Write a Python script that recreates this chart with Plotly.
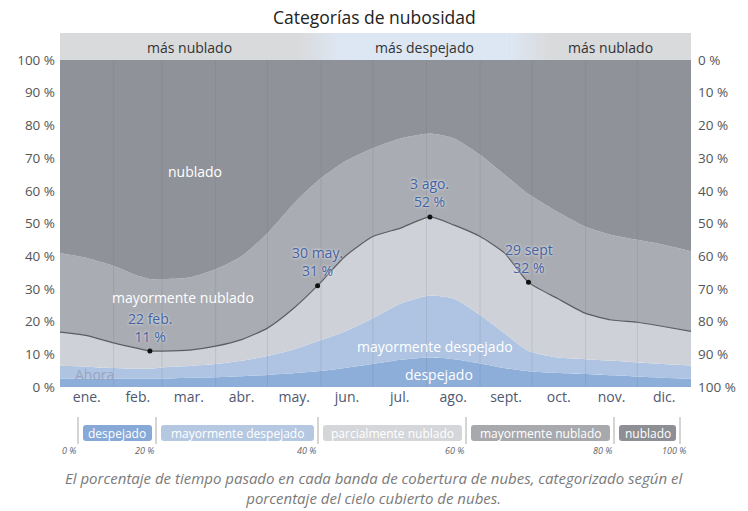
import plotly.graph_objects as go

# ---------------- data ----------------
days = [0, 15, 31, 45, 52, 59, 75, 90, 105, 120, 135, 149, 165, 181, 197, 214,
        228, 243, 257, 271, 288, 304, 319, 334, 349, 365]
# cumulative boundaries (% of time)
clear_top = [2.5, 2.5, 2.5, 2.5, 2.5, 2.5, 2.8, 3.0, 3.3, 3.7, 4.2, 4.8, 5.8, 7.0, 8.3, 9.0,
             8.5, 7.2, 5.8, 4.8, 4.3, 4.0, 3.6, 3.2, 2.8, 2.5]
mostly_clear_top = [6.5, 6.2, 5.8, 5.6, 5.6, 6.0, 6.4, 7.0, 8.0, 9.5, 11.5, 14.0, 17.0, 21.0, 25.5, 28.0,
                    27.0, 22.0, 16.5, 11.0, 9.0, 8.5, 8.0, 7.5, 7.0, 6.5]
partly_cloudy_top = [16.8, 15.8, 13.5, 11.8, 11.0, 11.0, 11.3, 12.5, 14.5, 18.0, 24.0, 31.0, 40.0, 46.0, 48.6, 52.0,
                     49.5, 46.0, 41.0, 32.0, 27.0, 22.5, 20.5, 19.8, 18.5, 17.0]
mostly_cloudy_top = [41.0, 39.5, 37.0, 34.0, 33.0, 33.0, 33.5, 36.0, 40.0, 47.0, 56.0, 63.0, 69.0, 73.0, 76.0, 77.5,
                     76.0, 71.0, 65.0, 59.0, 53.5, 49.0, 46.5, 45.0, 43.5, 41.5]

callout_days = [52, 149, 214, 271]
callout_values = [11, 31, 52, 32]
callout_dates = ["22 feb.", "30 may.", "3 ago.", "29 sept"]

month_labels = ["ene.", "feb.", "mar.", "abr.", "may.", "jun.", "jul.", "ago.", "sept.", "oct.", "nov.", "dic."]
month_starts = [0, 31, 59, 90, 120, 151, 181, 212, 243, 273, 304, 334, 365]

band_names = ["despejado", "mayormente despejado", "parcialmente nublado", "mayormente nublado", "nublado"]
band_edges = [0, 20, 40, 60, 80, 100]

season_labels = ["más nublado", "más despejado", "más nublado"]
season_edges = [0, 150, 272, 365]

# ---------------- styling ----------------
W, H = 748, 511
X0, X1, Y0, Y1 = 60, 691, 60, 387  # plot area pixels
def px(x): return x / W
def py(y): return 1 - y / H

FONT = "Open Sans"
col_clear = "#8caed9"
col_mclear = "#aec4e2"
col_partly = "#ced2d8"
col_mcloudy = "#a9acb2"
col_cloudy = "#8f9299"

fig = go.Figure()
zero = [0] * len(days)
hundred = [100] * len(days)
layers = [
    (zero, None),
    (clear_top, col_clear),
    (mostly_clear_top, col_mclear),
    (partly_cloudy_top, col_partly),
    (mostly_cloudy_top, col_mcloudy),
    (hundred, col_cloudy),
]
for vals, col in layers:
    fig.add_trace(go.Scatter(
        x=days, y=vals, mode="lines", line=dict(width=0, shape="spline", smoothing=0.6),
        fill=None if col is None else "tonexty", fillcolor=col,
        hoverinfo="skip", showlegend=False))

# boundary line
fig.add_trace(go.Scatter(x=days, y=partly_cloudy_top, mode="lines",
                         line=dict(color="#5b5d62", width=1.2, shape="spline", smoothing=0.6),
                         hoverinfo="skip", showlegend=False))
fig.add_trace(go.Scatter(x=callout_days, y=callout_values, mode="markers",
                         marker=dict(color="#111", size=5), hoverinfo="skip", showlegend=False))
# invisible trace for right axis
fig.add_trace(go.Scatter(x=[0, 365], y=[0, 100], yaxis="y2", mode="markers",
                         marker=dict(opacity=0), hoverinfo="skip", showlegend=False))

shapes = []
# month grid lines
for d in month_starts[1:-1]:
    shapes.append(dict(type="line", xref="x", yref="y", x0=d, x1=d, y0=0, y1=100,
                       line=dict(color="rgba(110,110,120,0.18)", width=1), layer="above"))

# season band on top (with gradient transitions)
gray = (217, 218, 220)
blue = (221, 231, 243)
def mix(a, b, t):
    return "rgb(%d,%d,%d)" % tuple(round(a[i] + (b[i] - a[i]) * t) for i in range(3))
def dx(d): return X0 + d / 365 * (X1 - X0)
shapes.append(dict(type="rect", xref="paper", yref="paper", x0=px(X0), x1=px(X1),
                   y0=py(60), y1=py(33), fillcolor=mix(gray, gray, 0), line=dict(width=0), layer="below"))
for (d0, d1, a, b) in [(season_edges[1] - 12, season_edges[1] + 12, gray, blue),
                       (season_edges[2] - 12, season_edges[2] + 12, blue, gray)]:
    n = 12
    for i in range(n):
        xa = dx(d0 + (d1 - d0) * i / n)
        xb = dx(d0 + (d1 - d0) * (i + 1) / n) + 0.5
        shapes.append(dict(type="rect", xref="paper", yref="paper", x0=px(xa), x1=px(xb),
                           y0=py(60), y1=py(33), fillcolor=mix(a, b, (i + 0.5) / n),
                           line=dict(width=0), layer="below"))
shapes.append(dict(type="rect", xref="paper", yref="paper", x0=px(dx(season_edges[1] + 12)),
                   x1=px(dx(season_edges[2] - 12)), y0=py(60), y1=py(33),
                   fillcolor=mix(blue, blue, 0), line=dict(width=0), layer="below"))

annotations = []
def ann(x, y, text, **kw):
    d = dict(x=x, y=y, xref="paper", yref="paper", text=text, showarrow=False,
             yanchor="middle", xanchor="center")
    d.update(kw)
    annotations.append(d)

for i, lab in enumerate(season_labels):
    mid = (season_edges[i] + season_edges[i + 1]) / 2
    ann(px(dx(mid)), py(47), lab, font=dict(size=14, color="#333", family=FONT))

# title
ann(0.5, py(17), "Categorías de nubosidad", font=dict(size=17.5, color="#222", family=FONT))

# in-chart labels
for (d, v, t, c) in [(78, 66, "nublado", "white"), (71, 27.5, "mayormente nublado", "white"),
                     (217, 12.5, "mayormente despejado", "white"), (219, 3.8, "despejado", "white"),
                     (20, 3.8, "Ahora", "rgba(150,160,185,0.9)")]:
    annotations.append(dict(x=d, y=v, xref="x", yref="y", text=t, showarrow=False,
                            font=dict(size=14, color=c, family=FONT)))

# callouts
for d, v, t in zip(callout_days, callout_values, callout_dates):
    annotations.append(dict(x=d, y=v, xref="x", yref="y", text=f"{t}<br>{v} %", showarrow=False,
                            yshift=24, font=dict(size=14, color="#4461a3", family=FONT,
                                                 shadow="0px 0px 3px white"),
                            align="center"))

# legend bar below
leg_ticks = [78, 156, 318, 466, 614, 680]
leg_cols = ["#87a9d8", "#b5c8e2", "#d4d6da", "#a7a9ad", "#8d8f94"]
def rrect(xa, xb, ya, yb, r=3):
    pts = []
    p = lambda x, y: f"{px(x)},{py(y)}"
    return (f"M {p(xa + r, ya)} L {p(xb - r, ya)} Q {p(xb, ya)} {p(xb, ya + r)} "
            f"L {p(xb, yb - r)} Q {p(xb, yb)} {p(xb - r, yb)} L {p(xa + r, yb)} "
            f"Q {p(xa, yb)} {p(xa, yb - r)} L {p(xa, ya + r)} Q {p(xa, ya)} {p(xa + r, ya)} Z")
for xt in leg_ticks:
    shapes.append(dict(type="line", xref="paper", yref="paper", x0=px(xt), x1=px(xt),
                       y0=py(417), y1=py(444), line=dict(color="#aaa", width=1)))
for i, name in enumerate(band_names):
    xa, xb = leg_ticks[i] + 5, leg_ticks[i + 1] - 4
    shapes.append(dict(type="path", xref="paper", yref="paper", path=rrect(xa, xb, 425, 441),
                       fillcolor=leg_cols[i], line=dict(width=0)))
    ann(px((xa + xb) / 2), py(433), name, font=dict(size=12, color="white", family=FONT))
for i, e in enumerate(band_edges):
    ann(px(leg_ticks[i] + (0 if i < 5 else 8)), py(450), f"{e} %", xanchor="right",
        font=dict(size=9, color="#666", family=FONT, style="italic"))

# caption
ann(0.5, py(488), "El porcentaje de tiempo pasado en cada banda de cobertura de nubes, categorizado según el<br>porcentaje del cielo cubierto de nubes.",
    align="center", font=dict(size=15, color="#7a7a7a", family=FONT, style="italic"))

month_mids = [(month_starts[i] + month_starts[i + 1]) / 2 for i in range(12)]
yt = list(range(0, 101, 10))

fig.update_layout(
    width=W, height=H, margin=dict(l=0, r=0, t=0, b=0, pad=0, autoexpand=False),
    paper_bgcolor="white", plot_bgcolor="white",
    xaxis=dict(domain=[px(X0), px(X1)], range=[0, 365], tickvals=month_mids, ticktext=month_labels,
               showgrid=False, zeroline=False, ticks="", tickfont=dict(size=14, color="#4e5870", family=FONT),
               automargin=False, fixedrange=True),
    yaxis=dict(domain=[py(Y1), py(Y0)], range=[0, 100], tickvals=yt, ticktext=[f"{v} %" for v in yt],
               automargin=False, ticklabelstandoff=4,
               showgrid=False, zeroline=False, ticks="", tickfont=dict(size=13.5, color="#555", family=FONT)),
    yaxis2=dict(overlaying="y", side="right", range=[100, 0], tickvals=yt, ticktext=[f"{v} %" for v in yt],
                automargin=False, ticklabelstandoff=6,
                showgrid=False, zeroline=False, ticks="", tickfont=dict(size=13.5, color="#555", family=FONT)),
    shapes=shapes, annotations=annotations, showlegend=False,
)

fig.write_html("out.html", config={"responsive": False, "displayModeBar": False},
               post_script="document.body.style.margin='0';document.body.style.overflow='hidden';")
